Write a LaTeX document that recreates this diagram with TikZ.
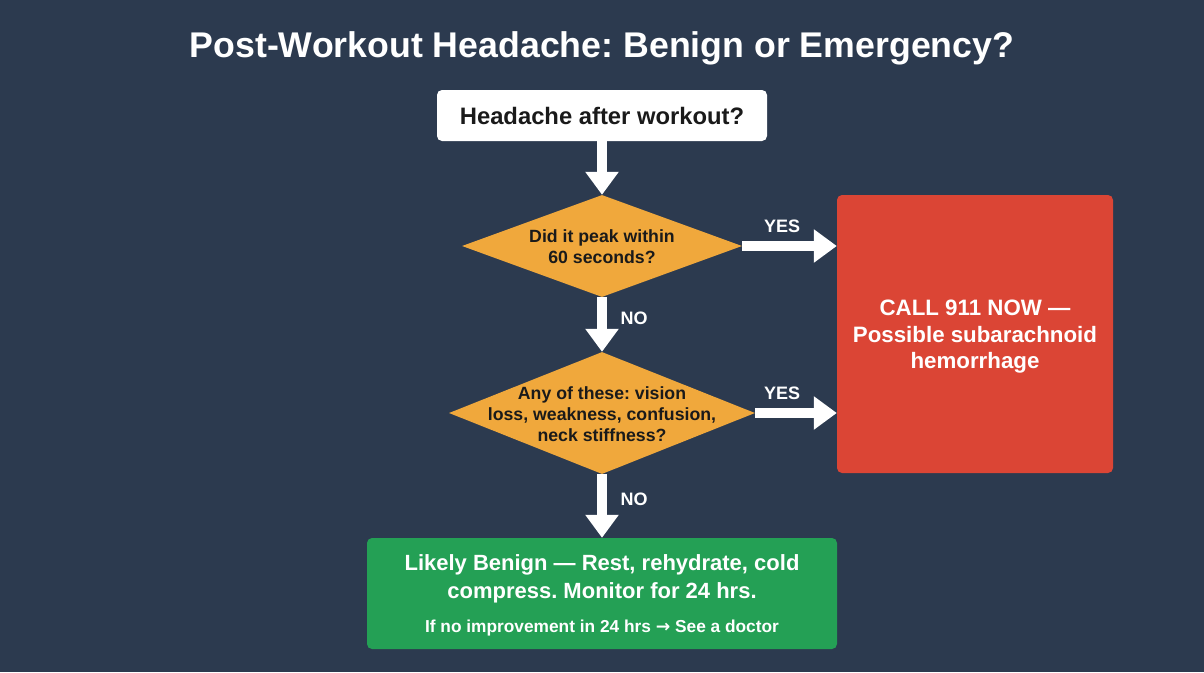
\documentclass[tikz,border=0pt]{standalone}
\usepackage{fontspec}
\setmainfont{Liberation Sans}
\newfontfamily\arrowfont{DejaVu Sans}
\frenchspacing
\usetikzlibrary{shapes.geometric,arrows.meta}
\definecolor{bg}{HTML}{2C3A4F}
\definecolor{dorange}{HTML}{F0A83C}
\definecolor{dred}{HTML}{DB4535}
\definecolor{dgreen}{HTML}{24A055}
\definecolor{dtext}{HTML}{1A1A1A}
\tikzset{
  flow/.style={draw=white, line width=10pt, -{Triangle[length=23pt,width=32pt]}, shorten >=0pt},
  dec/.style={shape=diamond, fill=dorange, draw=none, inner sep=0pt},
  dectext/.style={font=\fontsize{17.7}{21}\selectfont\bfseries, text=dtext, align=center},
  lbl/.style={font=\fontsize{18}{21}\selectfont\bfseries, text=white},
}
\begin{document}
\begin{tikzpicture}[x=1pt,y=-1pt]
\fill[bg] (0,0) rectangle (1204,672);
\useasboundingbox (0,0) rectangle (1204,672);
\node[font=\fontsize{35.7}{42}\selectfont\bfseries, text=white] (title) at (602,48) {Post-Workout Headache: Benign or Emergency?};
\node[fill=white, rounded corners=5pt, minimum width=330pt, minimum height=51pt, inner sep=0pt, font=\fontsize{23.8}{28}\selectfont\bfseries, text=dtext] (start) at (602,115.5) {Headache after workout?};
\node[dec, minimum width=280pt, minimum height=102pt] (d1) at (602,246) {};
\node[dectext] (d1t) at (602,247) {Did it peak within\\60 seconds?};
\node[dec, minimum width=306pt, minimum height=122pt] (d2) at (602,413) {};
\node[dectext] (d2t) at (602,414) {Any of these: vision\\loss, weakness, confusion,\\neck stiffness?};
\node[fill=dred, rounded corners=5pt, minimum width=276pt, minimum height=278pt, inner sep=0pt] (red) at (975,334) {};
\node[font=\fontsize{22.3}{26.5}\selectfont\bfseries, text=white, align=center] (redt) at (975,337) {CALL 911 NOW —\\Possible subarachnoid\\hemorrhage};
\node[fill=dgreen, rounded corners=5pt, minimum width=470pt, minimum height=111pt, inner sep=0pt] (green) at (602,593.5) {};
\node[font=\fontsize{22}{28}\selectfont\bfseries, text=white, align=center] (greent) at (602,579) {Likely Benign — Rest, rehydrate, cold\\compress. Monitor for 24 hrs.};
\node[font=\fontsize{17.3}{20}\selectfont\bfseries, text=white] (greens) at (602,628) {If no improvement in 24 hrs {\arrowfont\bfseries →} See a doctor};
\draw[flow] (start.south) -- (d1.north);
\draw[flow] (d1.south) -- (d2.north);
\draw[flow] (d2.south) -- (green.north);
\draw[flow] (d1.east) -- (d1.east -| red.west);
\draw[flow] (d2.east) -- (d2.east -| red.west);
\node[lbl] (y1) at (782,226) {YES};
\node[lbl] (y2) at (782,393) {YES};
\node[lbl] (n1) at (634,318) {NO};
\node[lbl] (n2) at (634,499) {NO};
\end{tikzpicture}
\end{document}
